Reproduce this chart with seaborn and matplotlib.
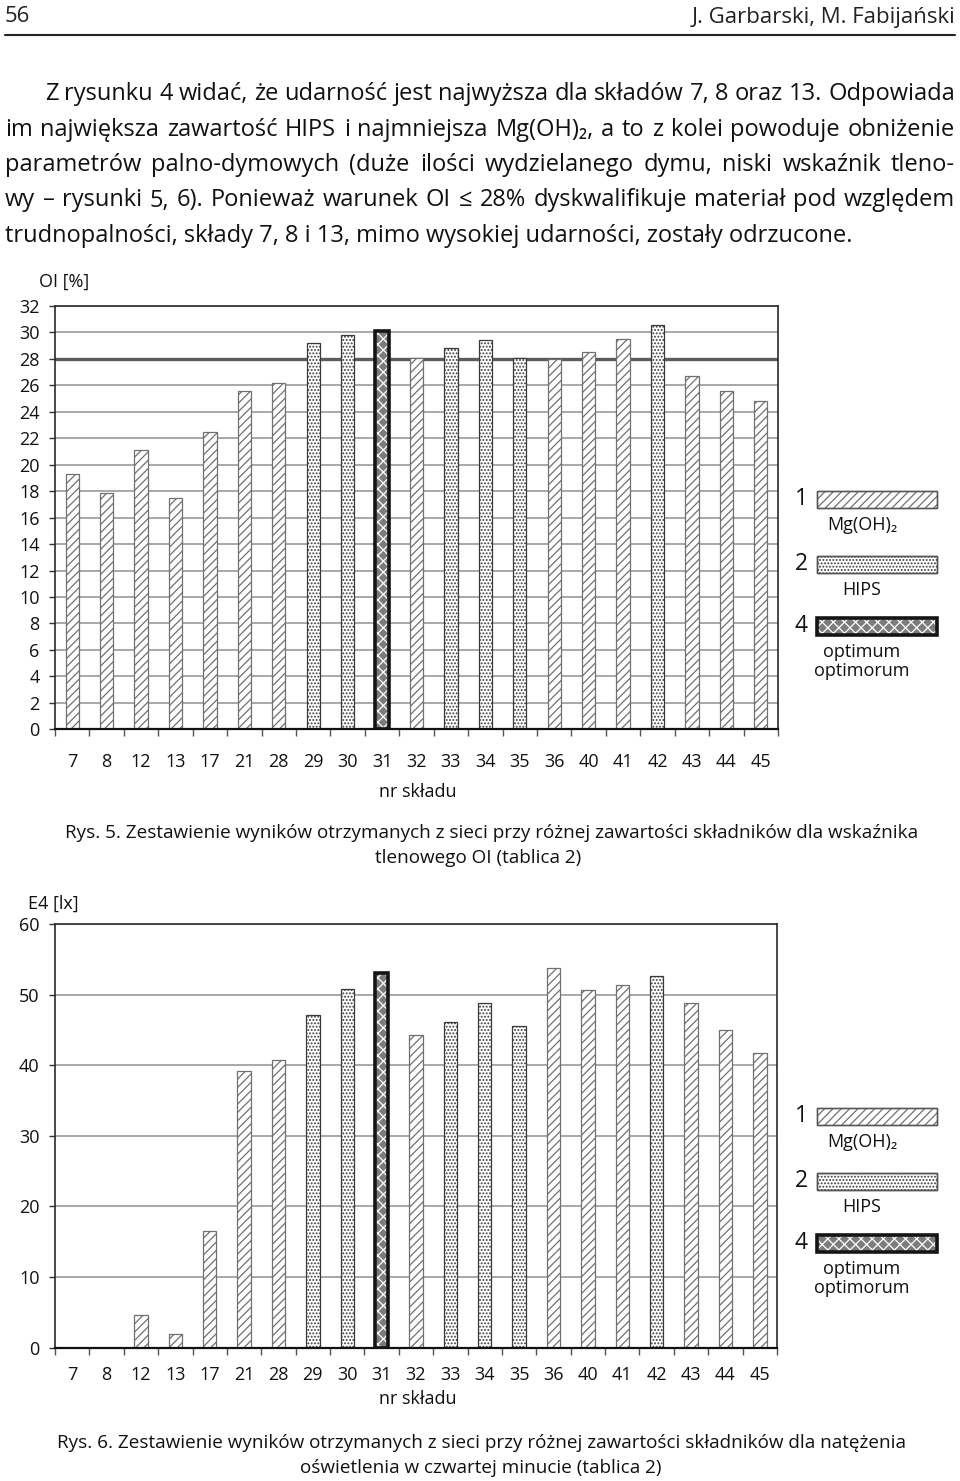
import numpy as np
import pandas as pd
import matplotlib.pyplot as plt
from matplotlib.patches import Rectangle
import seaborn as sns

W, H = 960, 1481

# composition numbers (x axis) and type of each composition
nr = ['7', '8', '12', '13', '17', '21', '28', '29', '30', '31', '32',
      '33', '34', '35', '36', '40', '41', '42', '43', '44', '45']
kind = ['Mg', 'Mg', 'Mg', 'Mg', 'Mg', 'Mg', 'Mg', 'HIPS', 'HIPS', 'opt', 'Mg',
        'HIPS', 'HIPS', 'HIPS', 'Mg', 'Mg', 'Mg', 'HIPS', 'Mg', 'Mg', 'Mg']

# Rys. 5 - oxygen index OI [%]
oi = [19.3, 17.9, 21.1, 17.5, 22.5, 25.6, 26.2, 29.2, 29.8, 30.1, 28.1,
      28.8, 29.4, 28.1, 28.0, 28.5, 29.5, 30.6, 26.7, 25.6, 24.8]
# Rys. 6 - illuminance after 4 minutes E4 [lx]
e4 = [0, 0, 4.6, 2.0, 16.5, 39.2, 40.7, 47.1, 50.8, 53.1, 44.3,
      46.1, 48.8, 45.5, 53.7, 50.7, 51.4, 52.6, 48.8, 45.0, 41.8]

header_left = "56"
header_right = "J. Garbarski, M. Fabijański"
paragraph = [
    "Z rysunku 4 widać, że udarność jest najwyższa dla składów 7, 8 oraz 13. Odpowiada",
    "im największa zawartość HIPS i najmniejsza Mg(OH)₂, a to z kolei powoduje obniżenie",
    "parametrów palno-dymowych (duże ilości wydzielanego dymu, niski wskaźnik tleno-",
    "wy – rysunki 5, 6). Ponieważ warunek OI ≤ 28% dyskwalifikuje materiał pod względem",
    "trudnopalności, składy 7, 8 i 13, mimo wysokiej udarności, zostały odrzucone.",
]
caption5 = ["Rys. 5. Zestawienie wyników otrzymanych z sieci przy różnej zawartości składników dla wskaźnika",
            "tlenowego OI (tablica 2)"]
caption6 = ["Rys. 6. Zestawienie wyników otrzymanych z sieci przy różnej zawartości składników dla natężenia",
            "oświetlenia w czwartej minucie (tablica 2)"]

sns.set_style("white")
plt.rcParams['font.family'] = ['Open Sans', 'Noto Sans', 'DejaVu Sans']
plt.rcParams['hatch.linewidth'] = 0.9

styles = {
    'Mg': dict(facecolor='white', edgecolor='#707070', hatch='////'),
    'HIPS': dict(facecolor='white', edgecolor='#3a3a3a', hatch='.....'),
    'opt': dict(facecolor='#7c7c7c', edgecolor='white', hatch='xxx'),
}


def fx(x):
    return x / W


def fy(y):
    return 1 - y / H


fig = plt.figure(figsize=(W / 100, H / 100), dpi=100)
renderer = fig.canvas.get_renderer()


def justify(text, x0, x1, y, size):
    words = text.split(' ')
    while True:
        ts = [fig.text(0, fy(y), w, fontsize=size, va='baseline', color='#111') for w in words]
        widths = [t.get_window_extent(renderer).width for t in ts]
        gap = (x1 - x0 - sum(widths)) / (len(words) - 1)
        if gap >= 4 or size < 10:
            break
        for t in ts:
            t.remove()
        size -= 0.25
    x = x0
    for t, w in zip(ts, widths):
        t.set_x(fx(x))
        x += w + gap


def draw_chart(box, values, ymax, step, ylabel, ylab_xy, xlab_y, xpad, line28=False):
    left, top, right, bottom = box
    ax = fig.add_axes([fx(left), fy(bottom), fx(right - left), (bottom - top) / H])
    df = pd.DataFrame({'nr': nr, 'val': values, 'kind': kind})
    sns.barplot(data=df, x='nr', y='val', order=nr, color='white', width=0.39,
                linewidth=0.9, ax=ax, zorder=2)
    for patch, k in zip(ax.patches, kind):
        st = styles[k]
        patch.set_facecolor(st['facecolor'])
        patch.set_edgecolor(st['edgecolor'])
        patch.set_hatch(st['hatch'])
        if k == 'opt':
            patch.set_linewidth(0)
    # thick black outline of the optimum bar
    opt_idx = [i for i, k in enumerate(kind) if k == 'opt']
    ax.bar(opt_idx, [values[i] for i in opt_idx], width=0.39, fill=False,
           edgecolor='#151515', linewidth=2.6, zorder=3)

    ax.set_ylim(0, ymax)
    ax.set_xlim(-0.5, len(nr) - 0.5)
    ax.set_yticks(np.arange(0, ymax + 1, step))
    ax.grid(axis='y', color='#9a9a9a', linewidth=1.2)
    ax.grid(axis='x', visible=False)
    ax.set_axisbelow(True)
    if line28:
        ax.axhline(28, color='#5c5c5c', linewidth=2.4, zorder=1)
    ax.set_xlabel('')
    ax.set_ylabel('')
    ax.set_xticks(np.arange(-0.5, len(nr), 1.0), minor=True)
    ax.tick_params(axis='x', which='major', length=0, pad=xpad, labelsize=13, labelcolor='#111')
    ax.tick_params(axis='x', which='minor', length=5, width=1, color='#555', direction='out', bottom=True)
    ax.tick_params(axis='y', length=4, width=1, color='#333', pad=7, labelsize=13,
                   labelcolor='#111', left=True)
    for side in ['top', 'right', 'left']:
        ax.spines[side].set_color('#2a2a2a')
        ax.spines[side].set_linewidth(1.2)
    ax.spines['bottom'].set_color('#111')
    ax.spines['bottom'].set_linewidth(1.6)

    fig.text(fx(ylab_xy[0]), fy(ylab_xy[1]), ylabel, fontsize=13, va='center', ha='left', color='#111')
    fig.text(fx(418), fy(xlab_y), "nr składu", fontsize=13, va='center', ha='center', color='#111')
    return ax


def draw_legend(y0):
    # y0 = top of the first legend box
    items = [('1', 'Mg', ["Mg(OH)₂"]), ('2', 'HIPS', ["HIPS"]), ('4', 'opt', ["optimum", "optimorum"])]
    offsets = [0, 65, 127]
    for (num, k, labels), off in zip(items, offsets):
        top = y0 + off
        st = styles[k]
        r = Rectangle((fx(817), fy(top + 17)), 120 / W, 17 / H, transform=fig.transFigure,
                      facecolor=st['facecolor'], edgecolor=st['edgecolor'], hatch=st['hatch'],
                      linewidth=0 if k == 'opt' else 1.0)
        fig.add_artist(r)
        if k == 'opt':
            fig.add_artist(Rectangle((fx(817), fy(top + 17)), 120 / W, 17 / H, transform=fig.transFigure,
                                     fill=False, edgecolor='#151515', linewidth=2.6))
        else:
            fig.add_artist(Rectangle((fx(817), fy(top + 17)), 120 / W, 17 / H, transform=fig.transFigure,
                                     fill=False, edgecolor='#555', linewidth=1.0))
        fig.text(fx(801), fy(top + 8), num, fontsize=16.5, ha='center', va='center', color='#111')
        for j, lab in enumerate(labels):
            fig.text(fx(862), fy(top + 34 + j * 19), lab, fontsize=13, ha='center', va='center', color='#111')


# page header
fig.text(fx(5), fy(17), header_left, fontsize=16, va='center', ha='left', color='#222')
fig.text(fx(955), fy(17), header_right, fontsize=16, va='center', ha='right', color='#222')
fig.add_artist(plt.Line2D([fx(5), fx(955)], [fy(35), fy(35)], color='#222', linewidth=1.5))

# paragraph (justified)
baselines = [100, 135.5, 171, 206.5, 242]
for i, line in enumerate(paragraph):
    x0 = 45 if i == 0 else 5
    if i < len(paragraph) - 1:
        justify(line, x0, 955, baselines[i], 17)
    else:
        fig.text(fx(x0), fy(baselines[i]), line, fontsize=17, va='baseline', color='#111')

# Rys. 5
draw_chart((55, 306, 778, 729.3), oi, 32, 2, "OI [%]", (39, 282), 792, 17, line28=True)
draw_legend(491)
fig.text(fx(492), fy(833), caption5[0], fontsize=13.6, ha='center', va='center', color='#111')
fig.text(fx(478), fy(858), caption5[1], fontsize=13.6, ha='center', va='center', color='#111')

# Rys. 6
draw_chart((55, 924, 777, 1347.7), e4, 60, 10, "E4 [lx]", (28, 904), 1399, 13)
draw_legend(1108)
fig.text(fx(481), fy(1443), caption6[0], fontsize=13.6, ha='center', va='center', color='#111')
fig.text(fx(481), fy(1468), caption6[1], fontsize=13.6, ha='center', va='center', color='#111')

fig.savefig("out.png", dpi=100)
